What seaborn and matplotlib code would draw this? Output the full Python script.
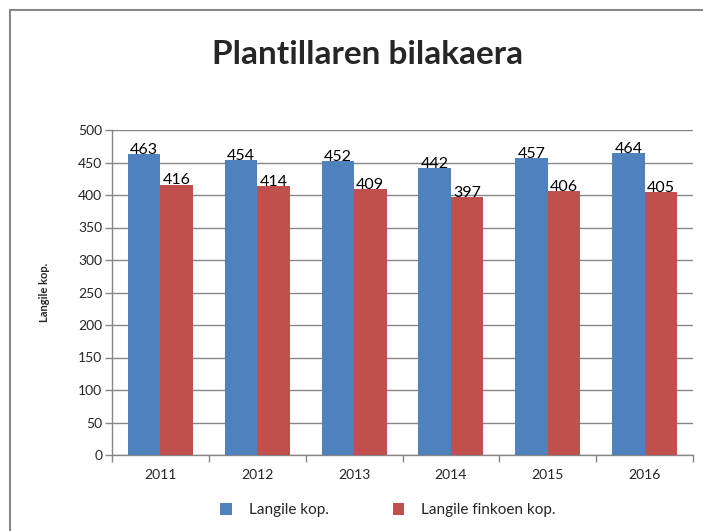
import pandas as pd
import matplotlib.pyplot as plt
import matplotlib.patches as mpatches
from matplotlib.ticker import MultipleLocator, FixedLocator
import seaborn as sns

# Chart data
years = ['2011', '2012', '2013', '2014', '2015', '2016']
langile_kop = [463, 454, 452, 442, 457, 464]
langile_finkoen_kop = [416, 414, 409, 397, 406, 405]
series_names = ['Langile kop.', 'Langile finkoen kop.']
colors = ['#4F81BD', '#C0504D']

df = pd.DataFrame({
    'Urtea': years * 2,
    'Balioa': langile_kop + langile_finkoen_kop,
    'Saila': [series_names[0]] * len(years) + [series_names[1]] * len(years),
})

sns.set_style('white')
plt.rcParams['font.family'] = ['Lato', 'DejaVu Sans']

fig = plt.figure(figsize=(7.03, 5.31), dpi=100)
ax = fig.add_axes([112 / 703, 1 - 455 / 531, 581 / 703, 325 / 531])

sns.barplot(data=df, x='Urtea', y='Balioa', hue='Saila', palette=colors,
            width=0.67, saturation=1, linewidth=0, ax=ax, zorder=3)

# Axis styling
ax.set_ylim(0, 500)
ax.set_xlim(-0.5, len(years) - 0.5)
ax.yaxis.set_major_locator(MultipleLocator(50))
ax.grid(axis='y', color='#868686', linewidth=1, zorder=0)
ax.set_axisbelow(True)
for side in ['top', 'right']:
    ax.spines[side].set_visible(False)
for side in ['left', 'bottom']:
    ax.spines[side].set_color('#868686')
    ax.spines[side].set_linewidth(1)
ax.tick_params(axis='y', which='major', length=5, width=1, color='#868686',
               labelsize=10, pad=2, left=True)
ax.tick_params(axis='x', which='major', length=0, labelsize=10, pad=10)
ax.xaxis.set_minor_locator(FixedLocator([i - 0.5 for i in range(len(years) + 1)]))
ax.tick_params(axis='x', which='minor', length=5, width=1, color='#868686', bottom=True)
ax.set_xlabel('')
ax.set_ylabel('Langile kop.', fontsize=8, fontweight='bold', labelpad=20)

# Value labels
for container in ax.containers:
    for bar in container:
        h = bar.get_height()
        ax.annotate(f'{h:.0f}', (bar.get_x() + bar.get_width() / 2, h),
                    xytext=(0, 3), textcoords='offset points',
                    ha='center', va='center', fontsize=11.5, color='black')

# Legend at the bottom
handles, labels = ax.get_legend_handles_labels()
ax.legend(handles, labels, loc='center', bbox_to_anchor=(0.475, -0.17),
          ncol=2, frameon=False, fontsize=11, handlelength=0.75,
          handleheight=0.75, handletextpad=1.1, columnspacing=4.2)

# Title
fig.text(368 / 703, 1 - 55 / 531, 'Plantillaren bilakaera', ha='center', va='center',
         fontsize=24, fontweight='bold')

# Outer chart border
fig.patches.append(mpatches.Rectangle((10 / 703, -0.05), 1.0, 1 - 10 / 531 + 0.05,
                                      transform=fig.transFigure, fill=False,
                                      edgecolor='#888888', linewidth=1.5))

fig.savefig('out.png', dpi=100)
